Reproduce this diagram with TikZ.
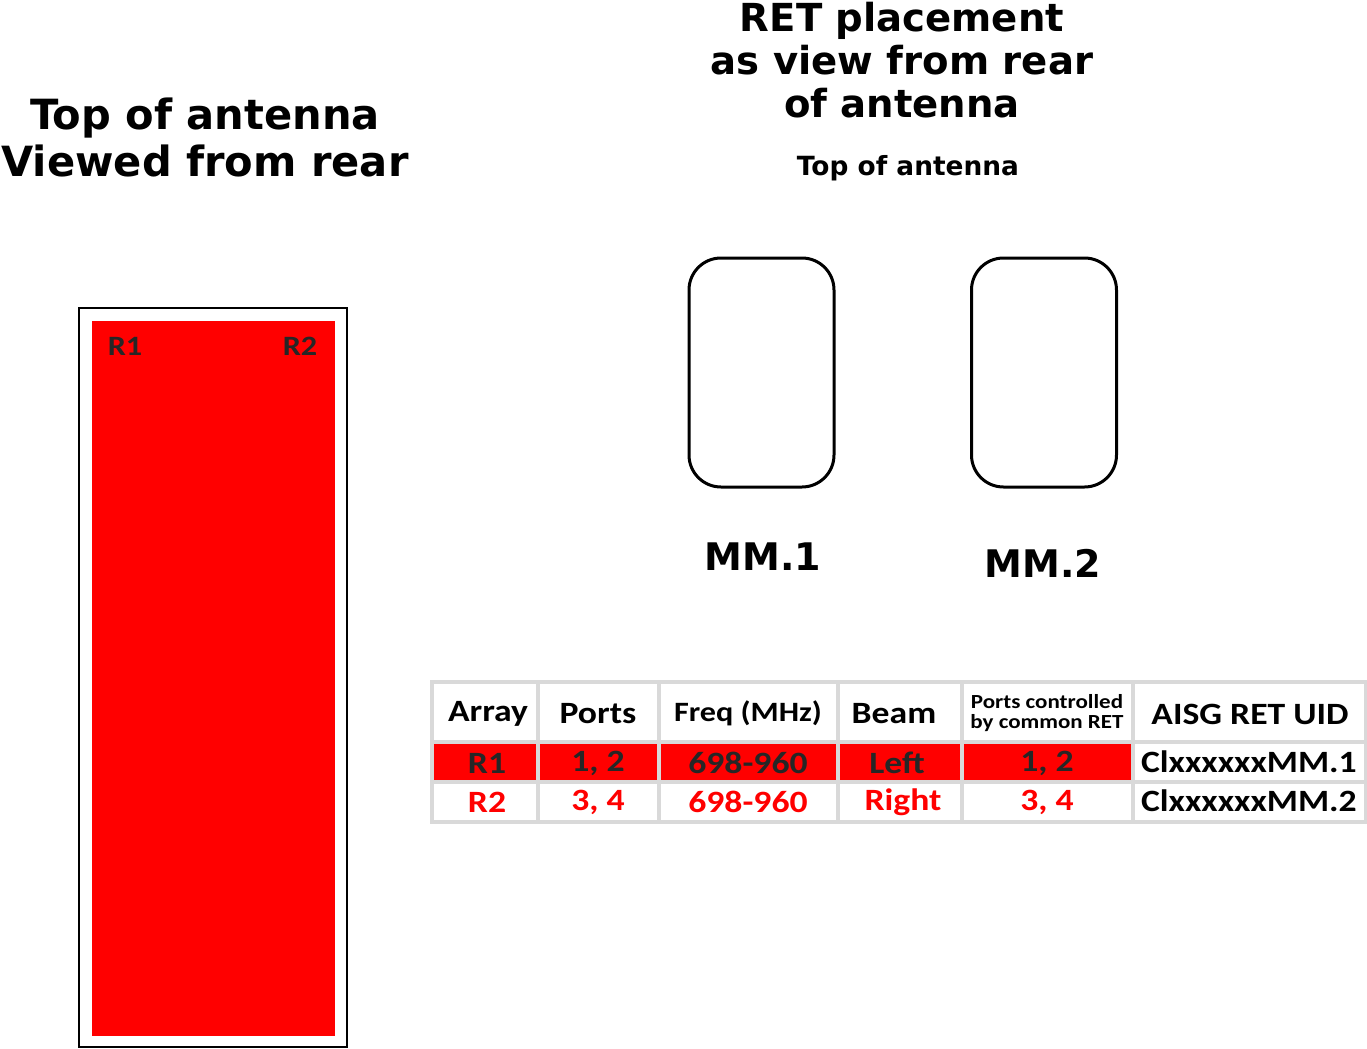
\documentclass[tikz,border=0pt]{standalone}
\usepackage{fontspec}
\setmainfont{DejaVu Sans}
\newfontfamily\tabfont[FakeStretch=1.15]{Carlito}
\usetikzlibrary{positioning}
\definecolor{retred}{HTML}{FF0000}
\definecolor{darktext}{HTML}{262626}
\definecolor{gridgray}{HTML}{D9D9D9}
\tikzset{
  bigtitle/.style={font=\bfseries\fontsize{20.8}{23.5}\selectfont, align=center, inner sep=0pt},
  rettitle/.style={font=\bfseries\fontsize{19.3}{21.5}\selectfont, align=center, inner sep=0pt},
  rettop/.style={font=\bfseries\fontsize{13.2}{15}\selectfont, inner sep=0pt},
  retbox/.style={draw, line width=1.5pt, rounded corners=16pt, minimum width=72.5pt, minimum height=114.5pt},
  mmlabel/.style={font=\bfseries\fontsize{19}{21}\selectfont, inner sep=0pt},
  arrlabel/.style={font=\tabfont\bfseries\fontsize{14}{16}\selectfont, text=darktext, inner sep=0pt},
  cell/.style={font=\tabfont\bfseries\fontsize{15.5}{18}\selectfont, inner sep=0pt},
  gridline/.style={draw=gridgray, line width=2pt}
}
\begin{document}
\begin{tikzpicture}[x=0.5pt,y=-0.5pt]
  \useasboundingbox (0,0) rectangle (1367,1049);
  % left: antenna seen from the rear
  \node[bigtitle] (lefttitle) at (205,137) {Top of antenna\\Viewed from rear};
  \draw[line width=0.9pt] (79,308) rectangle (347,1047);
  \fill[retred] (92,321) rectangle (335,1036);
  \node[arrlabel] (arr1) at (125,346) {R1};
  \node[arrlabel] (arr2) at (300,346) {R2};
  % right: RET placement
  \node[rettitle] (righttitle) at (902,60) {RET placement\\as view from rear\\of antenna};
  \node[rettop] (toplabel) at (908,168) {Top of antenna};
  \node[retbox] (mm1) at (761.5,372.5) {};
  \node[retbox] (mm2) at (1044,372.5) {};
  \node[mmlabel] (mm1label) at (763,557) {MM.1};
  \node[mmlabel] (mm2label) at (1043,563) {MM.2};
  % table
  \foreach \xa/\xb in {432/538,538/659,659/838,838/962,962/1133}
    {\fill[retred] (\xa,742) rectangle (\xb,782);}
  \draw[gridline] (432,682) rectangle (1366,822);
  \foreach \y in {742,782} {\draw[gridline] (432,\y) -- (1366,\y);}
  \foreach \x in {538,659,838,962,1133} {\draw[gridline] (\x,682) -- (\x,822);}
  \foreach \x/\txt [count=\i] in {488/Array,598/Ports,894/Beam,1250/AISG RET UID}
    {\node[cell] (head\i) at (\x,714) {\txt};}
  \node[cell, font=\tabfont\bfseries\fontsize{14}{16}\selectfont] (headfreq) at (748,713) {Freq (MHz)};
  \node[cell, font=\tabfont\bfseries\fontsize{10}{10}\selectfont, align=center] (headports) at (1047,713) {Ports controlled\\by common RET};
  \foreach \x/\txt [count=\i] in {487/R1,598/{1, 2},748/698-960,897/Left,1047/{1, 2}}
    {\node[cell, text=darktext] (rowa\i) at (\x,763) {\txt};}
  \node[cell] (rowauid) at (1249,762) {ClxxxxxxMM.1};
  \foreach \x/\txt [count=\i] in {487/R2,598/{3, 4},748/698-960,903/Right,1047/{3, 4}}
    {\node[cell, text=retred] (rowb\i) at (\x,802) {\txt};}
  \node[cell] (rowbuid) at (1249,801) {ClxxxxxxMM.2};
\end{tikzpicture}
\end{document}
